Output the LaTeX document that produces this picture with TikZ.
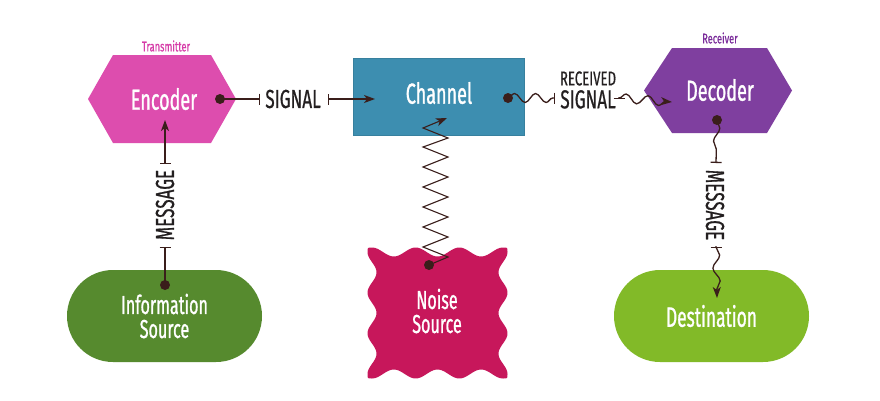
\documentclass[tikz,border=0pt]{standalone}
\usepackage{fontspec}
\newfontfamily\condA{Fira Sans}[FakeStretch=0.62,FakeBold=0.9]
\newfontfamily\condB{Fira Sans}[FakeStretch=0.66,FakeBold=0.6]
\usetikzlibrary{arrows.meta,decorations.pathmorphing}
\definecolor{encc}{HTML}{DD4DAE}
\definecolor{transc}{HTML}{D63CA8}
\definecolor{chanc}{HTML}{3D8EB0}
\definecolor{decc}{HTML}{7F3F9F}
\definecolor{recvc}{HTML}{7B2D9B}
\definecolor{infoc}{HTML}{568A2E}
\definecolor{destc}{HTML}{82BA28}
\definecolor{noisec}{HTML}{C7175B}
\definecolor{ink}{HTML}{3A1E1B}
\definecolor{txt}{HTML}{231F20}
\begin{document}
\begin{tikzpicture}[x=1pt,y=-1pt,
  shapetext/.style={text=white,font=\condA\fontsize{29}{24}\selectfont,align=center,inner sep=0pt},
  lbl/.style={text=txt,font=\condB\fontsize{26}{26}\selectfont,inner sep=0pt},
  small/.style={font=\condB\fontsize{14}{14}\selectfont,inner sep=0pt},
  stadium/.style={rounded corners=46pt,minimum width=195pt,minimum height=92pt,inner sep=0pt},
  conn/.style={draw=ink,line width=1.3pt},
  tipb/.style={{Bar[width=11pt]}-{Stealth[length=11pt,width=8pt,inset=3pt]}},
  dotc/.style={fill=ink}
]
\useasboundingbox (0,0) rectangle (880,400);
\fill[white] (0,0) rectangle (880,400);

% ---- shapes ----
\fill[encc] (88,99) -- (113,55) -- (211,55) -- (236,99) -- (211,143) -- (113,143) -- cycle;
\node[shapetext] (enc) at (164,99) {Encoder};
\node[small,text=transc] (trans) at (166,46) {Transmitter};

\node[fill=chanc,draw=chanc!90!black,line width=0.6pt,minimum width=171pt,minimum height=77pt,inner sep=0pt] (chan) at (438.5,96.5) {};
\node[shapetext] (chantext) at (439,93) {Channel};

\fill[decc] (644,90.5) -- (672,48) -- (767,48) -- (792,90.5) -- (767,133) -- (672,133) -- cycle;
\node[shapetext] (dec) at (720,90) {Decoder};
\node[small,text=recvc] (recv) at (720,38) {Receiver};

\node[stadium,fill=infoc,shapetext,font=\condA\fontsize{26}{24}\selectfont] (info) at (164.5,316) {Information\\Source};
\node[stadium,fill=destc,shapetext,font=\condA\fontsize{28}{24}\selectfont] (dest) at (711.5,316) {Destination};

\fill[noisec] (372,247.5)
  -- plot[domain=0:131,samples=80,smooth] ({372+\x},{252-4.5*cos(8.2443*\x)})
  .. controls (507.5,247.5) .. (507.5,252)
  -- plot[domain=0:122,samples=80,smooth] ({503+4.5*cos(8.8524*\x)},{252+\x})
  .. controls (507.5,378.5) .. (503,378.5)
  -- plot[domain=0:131,samples=80,smooth] ({503-\x},{374+4.5*cos(8.2443*\x)})
  .. controls (367.5,378.5) .. (367.5,374)
  -- plot[domain=0:122,samples=80,smooth] ({372-4.5*cos(8.8524*\x)},{374-\x})
  .. controls (367.5,247.5) .. (372,247.5) -- cycle;
\node[shapetext,font=\condA\fontsize{26}{24}\selectfont] (noise) at (437,311) {Noise\\Source};

% ---- labels ----
\node[lbl] (sig) at (293,99) {SIGNAL};
\node[lbl,align=center,font=\condB\fontsize{26}{23}\selectfont] (rsig) at (588,90) {{\fontsize{20}{20}\selectfont RECEIVED}\\SIGNAL};
\node[lbl,rotate=90] (msg1) at (165,205) {MESSAGE};
\node[lbl,rotate=-90] (msg2) at (715,205) {MESSAGE};

% ---- connector end points ----
\coordinate (encdot) at (220,99);
\coordinate (sigL) at (260,99);
\coordinate (sigR) at (328,99);
\coordinate (chanin) at (375,99);
\coordinate (chandot) at (508,98);
\coordinate (rsigL) at (555,98);
\coordinate (rsigR) at (619,98);
\coordinate (decin) at (672,102);
\coordinate (decdot) at (717,120);
\coordinate (m2t) at (716,163);
\coordinate (m2b) at (716,247);
\coordinate (destin) at (717,298);
\coordinate (infodot) at (165,285);
\coordinate (m1b) at (165,247);
\coordinate (m1t) at (165,164);
\coordinate (encin) at (165,120);
\coordinate (noisedot) at (429,265);
\coordinate (channoise) at (447,118);

% ---- connectors ----
\draw[conn,-{Bar[width=11pt]}] (encdot) -- (sigL);
\draw[conn,tipb] (sigR) -- (chanin);

\draw[conn,-{Bar[width=11pt]},decorate,decoration={snake,amplitude=4.5pt,segment length=21pt,post length=2pt}] (chandot) -- (rsigL);
\draw[conn,tipb,decorate,decoration={snake,amplitude=4.5pt,segment length=22pt,post length=6pt}] (rsigR) -- (decin);

\draw[conn,-{Bar[width=11pt]},decorate,decoration={snake,amplitude=3pt,segment length=26pt,post length=2pt}] (decdot) -- (m2t);
\draw[conn,tipb,decorate,decoration={snake,amplitude=3.5pt,segment length=26pt,post length=8pt}] (m2b) -- (destin);

\draw[conn,-{Bar[width=11pt]}] (infodot) -- (m1b);
\draw[conn,tipb] (m1t) -- (encin);

\draw[draw=ink,line width=1.1pt,-{Stealth[length=11pt,width=8pt,inset=3pt]}]
  (noisedot) -- (448,257) -- (423,247) -- (448,237) -- (423,227) -- (448,217) -- (423,207)
  -- (448,197) -- (423,187) -- (448,177) -- (423,167) -- (448,157) -- (423,147) -- (448,138)
  -- (423,128) -- (channoise);

% ---- dots ----
\fill[dotc] (encdot) circle[radius=5pt];
\fill[dotc] (chandot) circle[radius=5pt];
\fill[dotc] (decdot) circle[radius=5pt];
\fill[dotc] (infodot) circle[radius=5pt];
\fill[dotc] (noisedot) circle[radius=5pt];
\end{tikzpicture}
\end{document}
